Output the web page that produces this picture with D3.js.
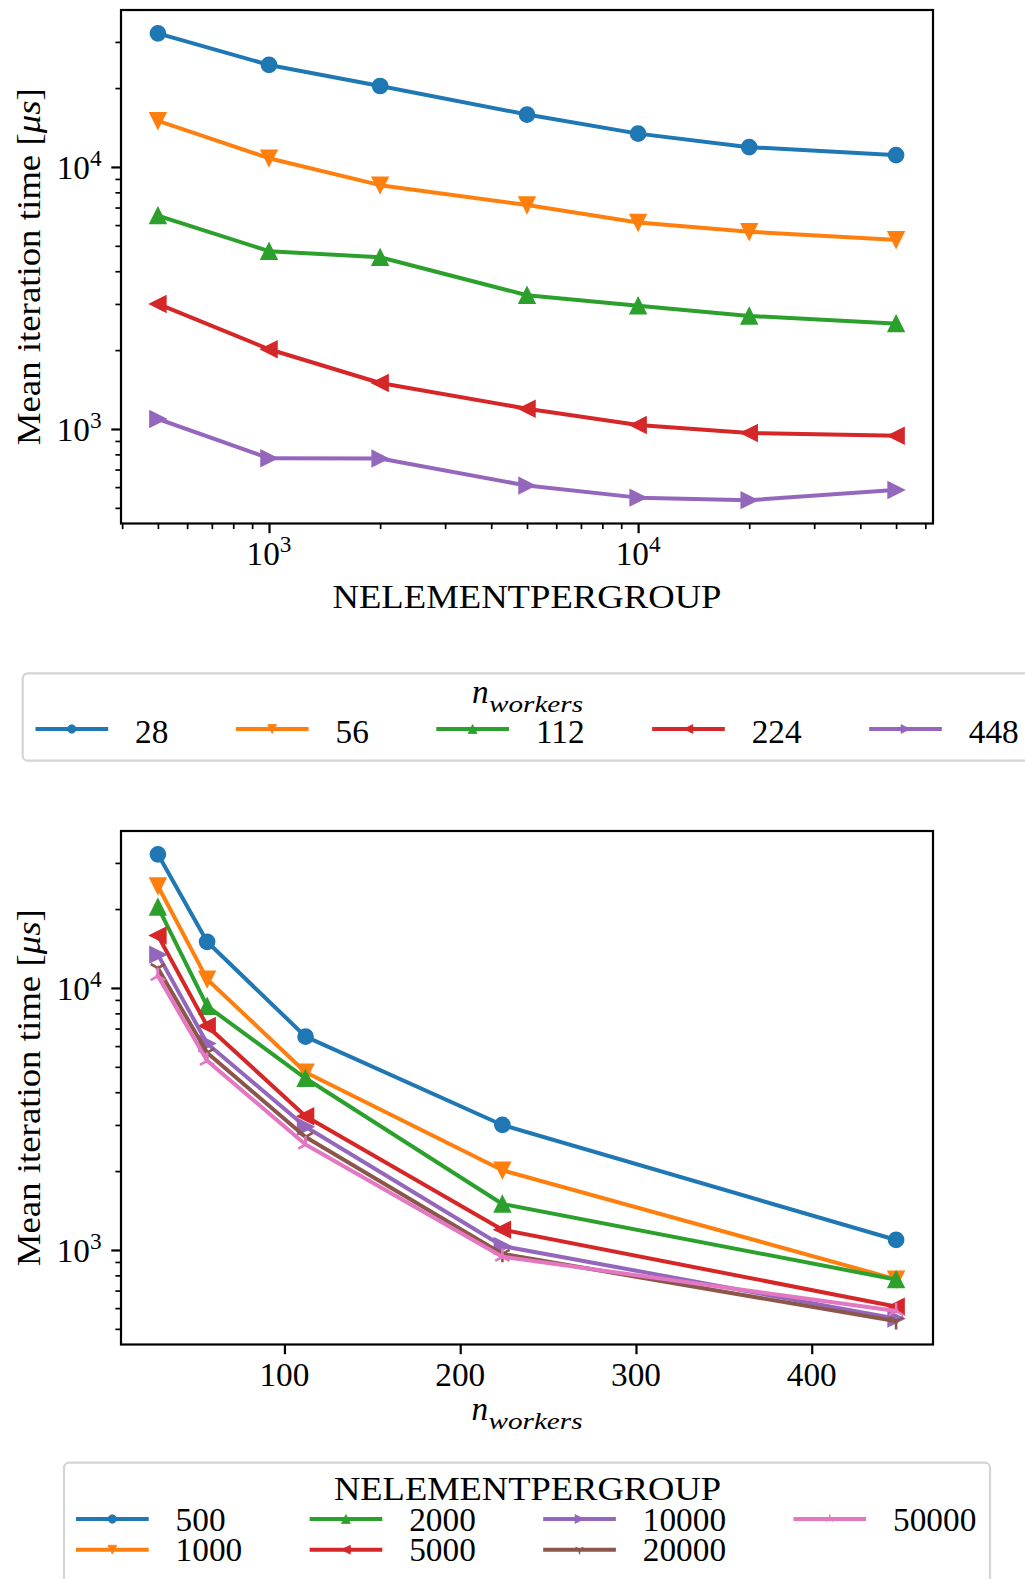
<!DOCTYPE html>
<html><head><meta charset="utf-8">
<script src="https://cdn.jsdelivr.net/npm/d3@7"></script>
<style>
html,body{margin:0;padding:0;background:#fff;}
svg{display:block;}
text{font-family:"Liberation Serif","Times New Roman",serif;fill:#000;}
</style>
</head><body>
<svg id="c" width="1025" height="1579"></svg>
<script>
// ---------------- data ----------------
const nElements = [500, 1000, 2000, 5000, 10000, 20000, 50000];
const nWorkers = [28, 56, 112, 224, 448];
// mean iteration time [us] per worker count, over nElements
const time28  = [32350, 24500, 20370, 15850, 13400, 11900, 11100];
const time56  = [15000, 10800, 8520, 7160, 6140, 5660, 5270];
const time112 = [6520, 4770, 4520, 3240, 2955, 2700, 2525];
const time224 = [3000, 2015, 1498, 1195, 1035, 966, 942];
const time448 = [1092, 773, 771, 608, 547, 535, 585];
const workerSeries = [time28, time56, time112, time224, time448];

const colors = ["#1f77b4","#ff7f0e","#2ca02c","#d62728","#9467bd","#8c564b","#e377c2"];
const markers = ["o","v","^","<",">","1","2"];
const yLabelMain = "Mean iteration time [";
const yLabelUnit = "\u03BCs";
const xLabelTop = "NELEMENTPERGROUP";
const legendTitleBottom = "NELEMENTPERGROUP";

// ---------------- layout ----------------
const FS = 33.3, SUB = 23.3;
const LW = 4;
const svg = d3.select("#c");
const topAx = {x0:121, x1:933, y0:10, y1:523.5};
const botAx = {x0:121, x1:933, y0:831, y1:1344.5};

const allVals = workerSeries.flat();
function logDomain(vals){
  const lo = Math.log10(d3.min(vals)), hi = Math.log10(d3.max(vals));
  const p = 0.05*(hi-lo);
  return [Math.pow(10, lo-p), Math.pow(10, hi+p)];
}
const yDom = logDomain(allVals);

function markerPath(type, r){
  const s = 0.866*r;
  switch(type){
    case "v": return `M${-r},${-r}L${r},${-r}L0,${r}Z`;
    case "^": return `M0,${-r}L${r},${r}L${-r},${r}Z`;
    case "<": return `M${-r},0L${r},${-r}L${r},${r}Z`;
    case ">": return `M${r},0L${-r},${-r}L${-r},${r}Z`;
    case "1": return `M0,0L0,${r}M0,0L${s},${-0.5*r}M0,0L${-s},${-0.5*r}`;
    case "2": return `M0,0L0,${-r}M0,0L${s},${0.5*r}M0,0L${-s},${0.5*r}`;
  }
  return "";
}
function drawMarker(g, type, color, cx, cy, scale){
  if(type === "o"){
    g.append("circle").attr("cx",cx).attr("cy",cy).attr("r",7.6*scale)
      .attr("fill",color).attr("stroke",color).attr("stroke-width",1.5*scale);
  } else if(type === "1" || type === "2"){
    g.append("path").attr("transform",`translate(${cx},${cy})`).attr("d",markerPath(type,8.3*scale))
      .attr("fill","none").attr("stroke",color).attr("stroke-width",2.6*scale);
  } else {
    g.append("path").attr("transform",`translate(${cx},${cy})`).attr("d",markerPath(type,8*scale))
      .attr("fill",color).attr("stroke",color).attr("stroke-width",1.5*scale).attr("stroke-linejoin","miter");
  }
}

function powLabel(g, x, y, v, anchor){
  const e = Math.round(Math.log10(v));
  const t = g.append("text").attr("x",x).attr("y",y).attr("text-anchor",anchor).style("font-size",FS+"px");
  t.append("tspan").text("10");
  t.append("tspan").attr("dy",-13).style("font-size",SUB+"px").text(e);
}

function yAxisLog(g, ax, y){
  const ticks = y.ticks();
  const isMajor = v => Math.abs(Math.log10(v) - Math.round(Math.log10(v))) < 1e-9;
  const major = ticks.filter(isMajor), minor = ticks.filter(v => !isMajor(v));
  const gm = g.append("g").attr("transform",`translate(${ax.x0},0)`)
    .call(d3.axisLeft(y).tickValues(major).tickSizeInner(9.7).tickSizeOuter(0).tickFormat(""));
  gm.select(".domain").remove(); gm.selectAll("line").attr("stroke-width",2.2);
  const gn = g.append("g").attr("transform",`translate(${ax.x0},0)`)
    .call(d3.axisLeft(y).tickValues(minor).tickSizeInner(5.6).tickSizeOuter(0).tickFormat(""));
  gn.select(".domain").remove(); gn.selectAll("line").attr("stroke-width",1.7);
  major.forEach(v => powLabel(g, ax.x0-19.4, y(v)+12, v, "end"));
}

function frame(g, ax){
  g.append("rect").attr("x",ax.x0).attr("y",ax.y0).attr("width",ax.x1-ax.x0).attr("height",ax.y1-ax.y0)
    .attr("fill","none").attr("stroke","#000").attr("stroke-width",2.2);
}

function yLabel(g, ax){
  const t = g.append("text").attr("transform",`translate(40,${(ax.y0+ax.y1)/2}) rotate(-90)`)
    .attr("text-anchor","middle").style("font-size",FS+"px")
    .attr("textLength",357).attr("lengthAdjust","spacingAndGlyphs");
  t.append("tspan").text(yLabelMain);
  t.append("tspan").style("font-style","italic").text(yLabelUnit);
  t.append("tspan").text("]");
}

function nWorkersLabel(g, cx, baseline){
  const total = 111, start = cx - total/2;
  g.append("text").attr("x",start).attr("y",baseline).style("font-size",FS+"px").style("font-style","italic").text("n");
  g.append("text").attr("x",start+17).attr("y",baseline+8.7).style("font-size",SUB+"px").style("font-style","italic")
    .attr("textLength",94).attr("lengthAdjust","spacingAndGlyphs").text("workers");
}

function drawSeries(g, xs, ys, x, y, color, mk){
  const pts = xs.map((v,i)=>[x(v), y(ys[i])]);
  g.append("path").attr("d", d3.line()(pts)).attr("fill","none").attr("stroke",color)
    .attr("stroke-width",LW).attr("stroke-linejoin","round").attr("stroke-linecap","square");
  pts.forEach(p => drawMarker(g, mk, color, p[0], p[1], 1));
}

// ---------------- top chart ----------------
{
  const ax = topAx;
  const g = svg.append("g");
  const x = d3.scaleLog().domain(logDomain(nElements)).range([ax.x0, ax.x1]);
  const y = d3.scaleLog().domain(yDom).range([ax.y1, ax.y0]);
  workerSeries.forEach((s,i) => drawSeries(g, nElements, s, x, y, colors[i], markers[i]));
  // x ticks
  const ticks = x.ticks();
  const isMajor = v => Math.abs(Math.log10(v) - Math.round(Math.log10(v))) < 1e-9;
  const major = ticks.filter(isMajor), minor = ticks.filter(v => !isMajor(v));
  const gm = g.append("g").attr("transform",`translate(0,${ax.y1})`)
    .call(d3.axisBottom(x).tickValues(major).tickSizeInner(9.7).tickSizeOuter(0).tickFormat(""));
  gm.select(".domain").remove(); gm.selectAll("line").attr("stroke-width",2.2);
  const gn = g.append("g").attr("transform",`translate(0,${ax.y1})`)
    .call(d3.axisBottom(x).tickValues(minor).tickSizeInner(5.6).tickSizeOuter(0).tickFormat(""));
  gn.select(".domain").remove(); gn.selectAll("line").attr("stroke-width",1.7);
  major.forEach(v => powLabel(g, x(v), ax.y1+41.5, v, "middle"));
  yAxisLog(g, ax, y);
  frame(g, ax);
  yLabel(g, ax);
  g.append("text").attr("x",(ax.x0+ax.x1)/2).attr("y",ax.y1+84).attr("text-anchor","middle")
    .style("font-size",FS+"px").attr("textLength",389).attr("lengthAdjust","spacingAndGlyphs").text(xLabelTop);
}

// ---------------- bottom chart ----------------
{
  const ax = botAx;
  const g = svg.append("g");
  const pad = 0.05*(d3.max(nWorkers)-d3.min(nWorkers));
  const x = d3.scaleLinear().domain([d3.min(nWorkers)-pad, d3.max(nWorkers)+pad]).range([ax.x0, ax.x1]);
  const y = d3.scaleLog().domain(yDom).range([ax.y1, ax.y0]);
  nElements.forEach((ne, j) => {
    const vals = workerSeries.map(s => s[j]);
    drawSeries(g, nWorkers, vals, x, y, colors[j], markers[j]);
  });
  const xt = x.ticks(5);
  const gx = g.append("g").attr("transform",`translate(0,${ax.y1})`)
    .call(d3.axisBottom(x).tickValues(xt).tickSizeInner(9.7).tickSizeOuter(0).tickFormat(""));
  gx.select(".domain").remove(); gx.selectAll("line").attr("stroke-width",2.2);
  xt.forEach(v => g.append("text").attr("x",x(v)).attr("y",ax.y1+41.5).attr("text-anchor","middle")
    .style("font-size",FS+"px").text(v));
  yAxisLog(g, ax, y);
  frame(g, ax);
  yLabel(g, ax);
  nWorkersLabel(g, (ax.x0+ax.x1)/2, ax.y1+75.5);
}

// ---------------- legends ----------------
function legend(opts){
  const g = svg.append("g");
  g.append("rect").attr("x",opts.box[0]).attr("y",opts.box[1]).attr("width",opts.box[2]).attr("height",opts.box[3])
    .attr("rx",5).attr("fill","#fff").attr("stroke","#d5d5d5").attr("stroke-width",2.2);
  opts.title(g);
  let hx = opts.hx0;
  const nrow = opts.rows.length;
  const ncol = Math.ceil(opts.items.length / nrow);
  for(let c=0;c<ncol;c++){
    const colItems = opts.items.slice(c*nrow, c*nrow+nrow);
    let maxW = 0;
    colItems.forEach((it, r) => {
      const ly = opts.rows[r];
      g.append("line").attr("x1",hx+2).attr("x2",hx+70.7).attr("y1",ly).attr("y2",ly)
        .attr("stroke",it.color).attr("stroke-width",LW).attr("stroke-linecap","square");
      drawMarker(g, it.marker, it.color, hx+36.3, ly, 0.55);
      const t = g.append("text").attr("x",hx+99.6).attr("y",ly+opts.textDy).style("font-size",FS+"px").text(it.label);
      maxW = Math.max(maxW, t.node().getComputedTextLength());
    });
    hx = hx + 99.6 + maxW + opts.colSpace;
  }
}

legend({
  box:[22.7, 673.3, 1009.6, 87.4],
  title: g => nWorkersLabel(g, 527.5, 703),
  hx0: 35.5, rows:[729], textDy: 13.5, colSpace: 67.5,
  items: nWorkers.map((w,i)=>({label:String(w), color:colors[i], marker:markers[i]}))
});

legend({
  box:[64, 1462.7, 926, 125],
  title: g => g.append("text").attr("x",527.5).attr("y",1500).attr("text-anchor","middle").style("font-size",FS+"px")
    .attr("textLength",387).attr("lengthAdjust","spacingAndGlyphs").text(legendTitleBottom),
  hx0: 76, rows:[1519, 1549.7], textDy: 11.7, colSpace: 67.4,
  items: nElements.map((n,j)=>({label:String(n), color:colors[j], marker:markers[j]}))
});
</script>
</body></html>
